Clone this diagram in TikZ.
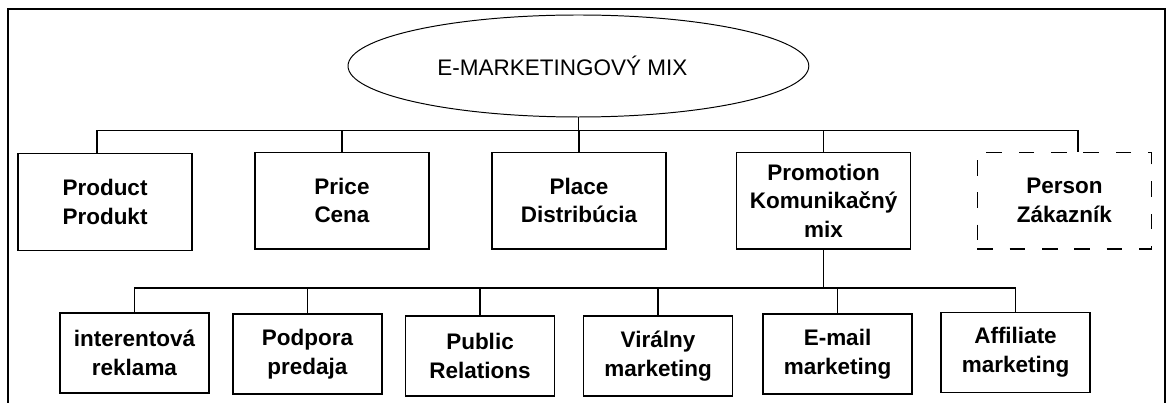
\documentclass[tikz,border=0pt]{standalone}
\usepackage{fontspec}
\setmainfont{Liberation Sans}
\usetikzlibrary{shapes.geometric}

\begin{document}
\begin{tikzpicture}[every path/.style={line width=0.9pt},
  every node/.style={draw,rectangle,align=center,font=\bfseries\fontsize{16}{20.3}\selectfont},
  pbox/.style={minimum width=4.35cm,minimum height=2.42cm},
  cbox/.style={minimum width=3.72cm,minimum height=2cm}]
\useasboundingbox (0,0) rectangle (29.15,10.075);
\draw[line width=1.2pt] (0.2,0) -- (0.2,9.85) -- (29.125,9.85) -- (29.125,0);

\node[ellipse,line width=0.7pt,minimum width=11.52cm,minimum height=2.55cm,inner sep=0pt,font=\fontsize{16}{20}\selectfont] (mix) at (14.46,8.425) {E-MARKETINGOVÝ MIX\hspace*{0.8cm}};

\node[pbox] (product) at (2.625,5.025) {Product\\Produkt};
\node[pbox] (price) at (8.55,5.06) {Price\\Cena};
\node[pbox] (place) at (14.475,5.06) {Place\\Distribúcia};
\node[pbox] (promotion) at (20.59,5.06) {Promotion\\Komunikačný\\mix};
\node[pbox,dash pattern=on 11pt off 12pt] (person) at (26.61,5.06) {Person\\Zákazník};

\node[cbox] (banner) at (3.3625,1.25) {interentová\\reklama};
\node[cbox] (sales) at (7.6875,1.225) {Podpora\\predaja};
\node[cbox] (pr) at (12.0,1.175) {Public\\Relations};
\node[cbox] (viral) at (16.45,1.175) {Virálny\\marketing};
\node[cbox] (email) at (20.9375,1.225) {E-mail\\marketing};
\node[cbox] (affiliate) at (25.3875,1.2625) {Affiliate\\marketing};

\coordinate (topbus) at (14.46,6.8125);
\coordinate (subbus) at (20.59,2.875);

\draw (mix) -- (topbus);
\draw ([xshift=-0.2cm]product.north) |- (topbus);
  \draw (price.north) |- (topbus);
  \draw (place.north) |- (topbus);
  \draw (promotion.north) |- (topbus);
\draw ([xshift=0.34cm]person.north) |- (topbus);

\draw (promotion) -- (subbus);
\draw (banner) |- (subbus);
  \draw (sales) |- (subbus);
  \draw (pr) |- (subbus);
  \draw (viral) |- (subbus);
  \draw (email) |- (subbus);
\draw (affiliate) |- (subbus);
\end{tikzpicture}
\end{document}
